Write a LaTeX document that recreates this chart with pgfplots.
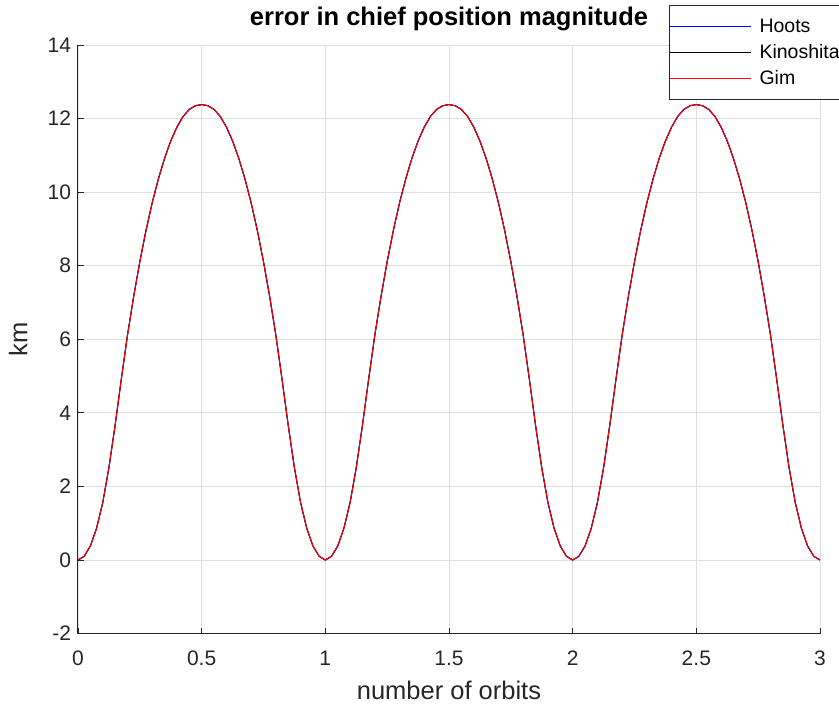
\documentclass[border=0pt]{standalone}
\usepackage{fontspec}
\setmainfont{Liberation Sans}
\usepackage{pgfplots}
\usepackage{pgfplotstable}
\pgfplotsset{compat=1.18}
\definecolor{axcol}{RGB}{38,38,38}
\definecolor{gridcol}{RGB}{223,223,223}
\definecolor{hootsblue}{RGB}{0,0,255}
\definecolor{gimred}{RGB}{255,0,0}

\pgfplotstableread{
x y
0 0
0.025 0.10
0.05 0.38
0.075 0.86
0.1 1.56
0.125 2.51
0.15 3.66
0.175 4.91
0.2 6.11
0.225 7.16
0.25 8.11
0.275 8.96
0.3 9.71
0.325 10.36
0.35 10.92
0.375 11.39
0.4 11.77
0.425 12.06
0.45 12.25
0.475 12.35
0.5 12.38
0.525 12.35
0.55 12.25
0.575 12.06
0.6 11.77
0.625 11.39
0.65 10.92
0.675 10.36
0.7 9.71
0.725 8.96
0.75 8.11
0.775 7.16
0.8 6.11
0.825 4.91
0.85 3.66
0.875 2.51
0.9 1.56
0.925 0.86
0.95 0.38
0.975 0.10
1 0
1.025 0.10
1.05 0.38
1.075 0.86
1.1 1.56
1.125 2.51
1.15 3.66
1.175 4.91
1.2 6.11
1.225 7.16
1.25 8.11
1.275 8.96
1.3 9.71
1.325 10.36
1.35 10.92
1.375 11.39
1.4 11.77
1.425 12.06
1.45 12.25
1.475 12.35
1.5 12.38
1.525 12.35
1.55 12.25
1.575 12.06
1.6 11.77
1.625 11.39
1.65 10.92
1.675 10.36
1.7 9.71
1.725 8.96
1.75 8.11
1.775 7.16
1.8 6.11
1.825 4.91
1.85 3.66
1.875 2.51
1.9 1.56
1.925 0.86
1.95 0.38
1.975 0.10
2 0
2.025 0.10
2.05 0.38
2.075 0.86
2.1 1.56
2.125 2.51
2.15 3.66
2.175 4.91
2.2 6.11
2.225 7.16
2.25 8.11
2.275 8.96
2.3 9.71
2.325 10.36
2.35 10.92
2.375 11.39
2.4 11.77
2.425 12.06
2.45 12.25
2.475 12.35
2.5 12.38
2.525 12.35
2.55 12.25
2.575 12.06
2.6 11.77
2.625 11.39
2.65 10.92
2.675 10.36
2.7 9.71
2.725 8.96
2.75 8.11
2.775 7.16
2.8 6.11
2.825 4.91
2.85 3.66
2.875 2.51
2.9 1.56
2.925 0.86
2.95 0.38
2.975 0.10
3 0
}\errdata

\begin{document}
\begin{tikzpicture}[x=1pt,y=1pt]
\clip (0,0) rectangle (839,707);
\begin{axis}[
  at={(78pt,73.4pt)}, anchor=south west,
  width=742pt, height=588.6pt, scale only axis,
  xmin=0, xmax=3, ymin=-2, ymax=14,
  xtick={0,0.5,1,1.5,2,2.5,3},
  xticklabels={0,0.5,1,1.5,2,2.5,3},
  ytick={-2,0,2,4,6,8,10,12,14},
  yticklabels={-2,0,2,4,6,8,10,12,14},
  axis x line*=bottom, axis y line*=left,
  axis line style={axcol, line width=1pt},
  tick style={axcol, line width=0.8pt},
  tick align=inside, major tick length=5.5pt,
  xmajorgrids, ymajorgrids,
  grid style={gridcol, line width=0.8pt},
  ticklabel style={font=\fontsize{21}{25}\selectfont, text=axcol},
  xticklabel style={anchor=base, yshift=-32.4pt},
  yticklabel style={xshift=-3.5pt},
  xlabel={number of orbits},
  ylabel={\rotatebox{90}{km}},
  xlabel style={font=\fontsize{25.5}{30}\selectfont, text=axcol,
    at={(axis description cs:0.5,0)}, anchor=base, yshift=-66pt},
  every axis y label/.style={font=\fontsize{25.5}{30}\selectfont, text=axcol,
    at={(axis description cs:-0.0679,0.5)}, anchor=east, inner sep=0pt},
  title={\textbf{error in chief position magnitude}},
  title style={font=\fontsize{25.5}{30}\selectfont, text=black,
    at={(axis description cs:0.5,1)}, anchor=base, yshift=13pt},
  legend style={at={(axis description cs:0.7965,1.068)}, anchor=north west,
    font=\fontsize{19.5}{23}\selectfont, draw=axcol, line width=0.8pt,
    fill=white, inner xsep=0pt, inner ysep=8pt, column sep=8pt,
    nodes={inner xsep=0pt, inner ysep=2pt, text height=17pt, text depth=5pt}},
  legend cell align=left,
  legend image code/.code={\path (0pt,0pt) -- (13pt,0pt); \draw[#1, line width=1.2pt] (13pt,0pt) -- (81pt,0pt);},
]
\addplot[hootsblue, line width=1pt] table[x=x,y=y] {\errdata};
\addlegendentry{Hoots}
\addplot[black, line width=1pt] table[x=x,y=y] {\errdata};
\addlegendentry{Kinoshita\hspace{12pt}}
\addplot[gimred, line width=1pt] table[x=x,y=y] {\errdata};
\addlegendentry{Gim}
\end{axis}
\end{tikzpicture}
\end{document}
